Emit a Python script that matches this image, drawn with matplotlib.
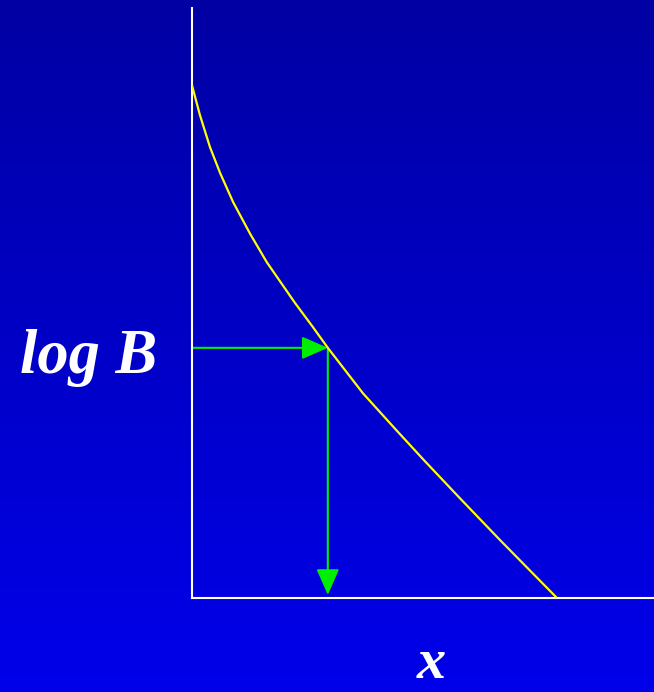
import numpy as np
import matplotlib
matplotlib.use('Agg')
import matplotlib.pyplot as plt

# кривая log B(x) (оси от 0 до 1)
curve_x = [0.0, 0.017, 0.039, 0.061, 0.089, 0.126, 0.162, 0.223, 0.260, 0.294,
           0.370, 0.444, 0.504, 0.580, 0.667, 0.790]
curve_y = [0.869, 0.819, 0.764, 0.720, 0.671, 0.617, 0.569, 0.500, 0.461, 0.424,
           0.347, 0.283, 0.232, 0.169, 0.098, 0.0]
# точка, в которой считывается значение
read_x, read_y = 0.294, 0.424

W, H = 654, 692
fig = plt.figure(figsize=(W / 100, H / 100), dpi=100)

# фон - синий градиент
bg = fig.add_axes([0, 0, 1, 1], zorder=0)
grad = np.linspace(0, 1, 256).reshape(-1, 1)
top = np.array([0.0, 0.0, 0.64])
bot = np.array([0.0, 0.0, 0.92])
img = top + (bot - top) * grad[:, :, None]
bg.imshow(img, aspect='auto', extent=[0, 1, 0, 1])
bg.axis('off')

ax = fig.add_axes([192 / W, (H - 598) / H, (W - 192) / W, (598 - 8) / H], zorder=1)
ax.patch.set_alpha(0)
ax.set_xlim(0, 1)
ax.set_ylim(0, 1)
for s in ['top', 'right']:
    ax.spines[s].set_visible(False)
for s in ['left', 'bottom']:
    ax.spines[s].set_color('white')
    ax.spines[s].set_linewidth(1.5)
ax.set_xticks([])
ax.set_yticks([])

ax.plot(curve_x, curve_y, color='#ffff00', lw=1.6, solid_capstyle='butt',
        solid_joinstyle='round', zorder=3)

green = '#00ee00'
style = '-|>,head_length=1.6,head_width=0.7'
ax.annotate('', xy=(read_x, read_y), xytext=(0, read_y),
            arrowprops=dict(arrowstyle=style, color=green, lw=1.5,
                            shrinkA=0, shrinkB=0, mutation_scale=10), zorder=2)
ax.annotate('', xy=(read_x, 0.005), xytext=(read_x, read_y),
            arrowprops=dict(arrowstyle=style, color=green, lw=1.5,
                            shrinkA=0, shrinkB=0, mutation_scale=10), zorder=2)

font = dict(family='Liberation Serif', weight='bold', style='italic', color='white')
fig.text(20 / W, (H - 373) / H, 'log B', fontsize=45, ha='left', va='baseline', **font)
fig.text(431 / W, (H - 678) / H, 'x', fontsize=42, ha='center', va='baseline', **font)

fig.savefig('out.png', dpi=100)
